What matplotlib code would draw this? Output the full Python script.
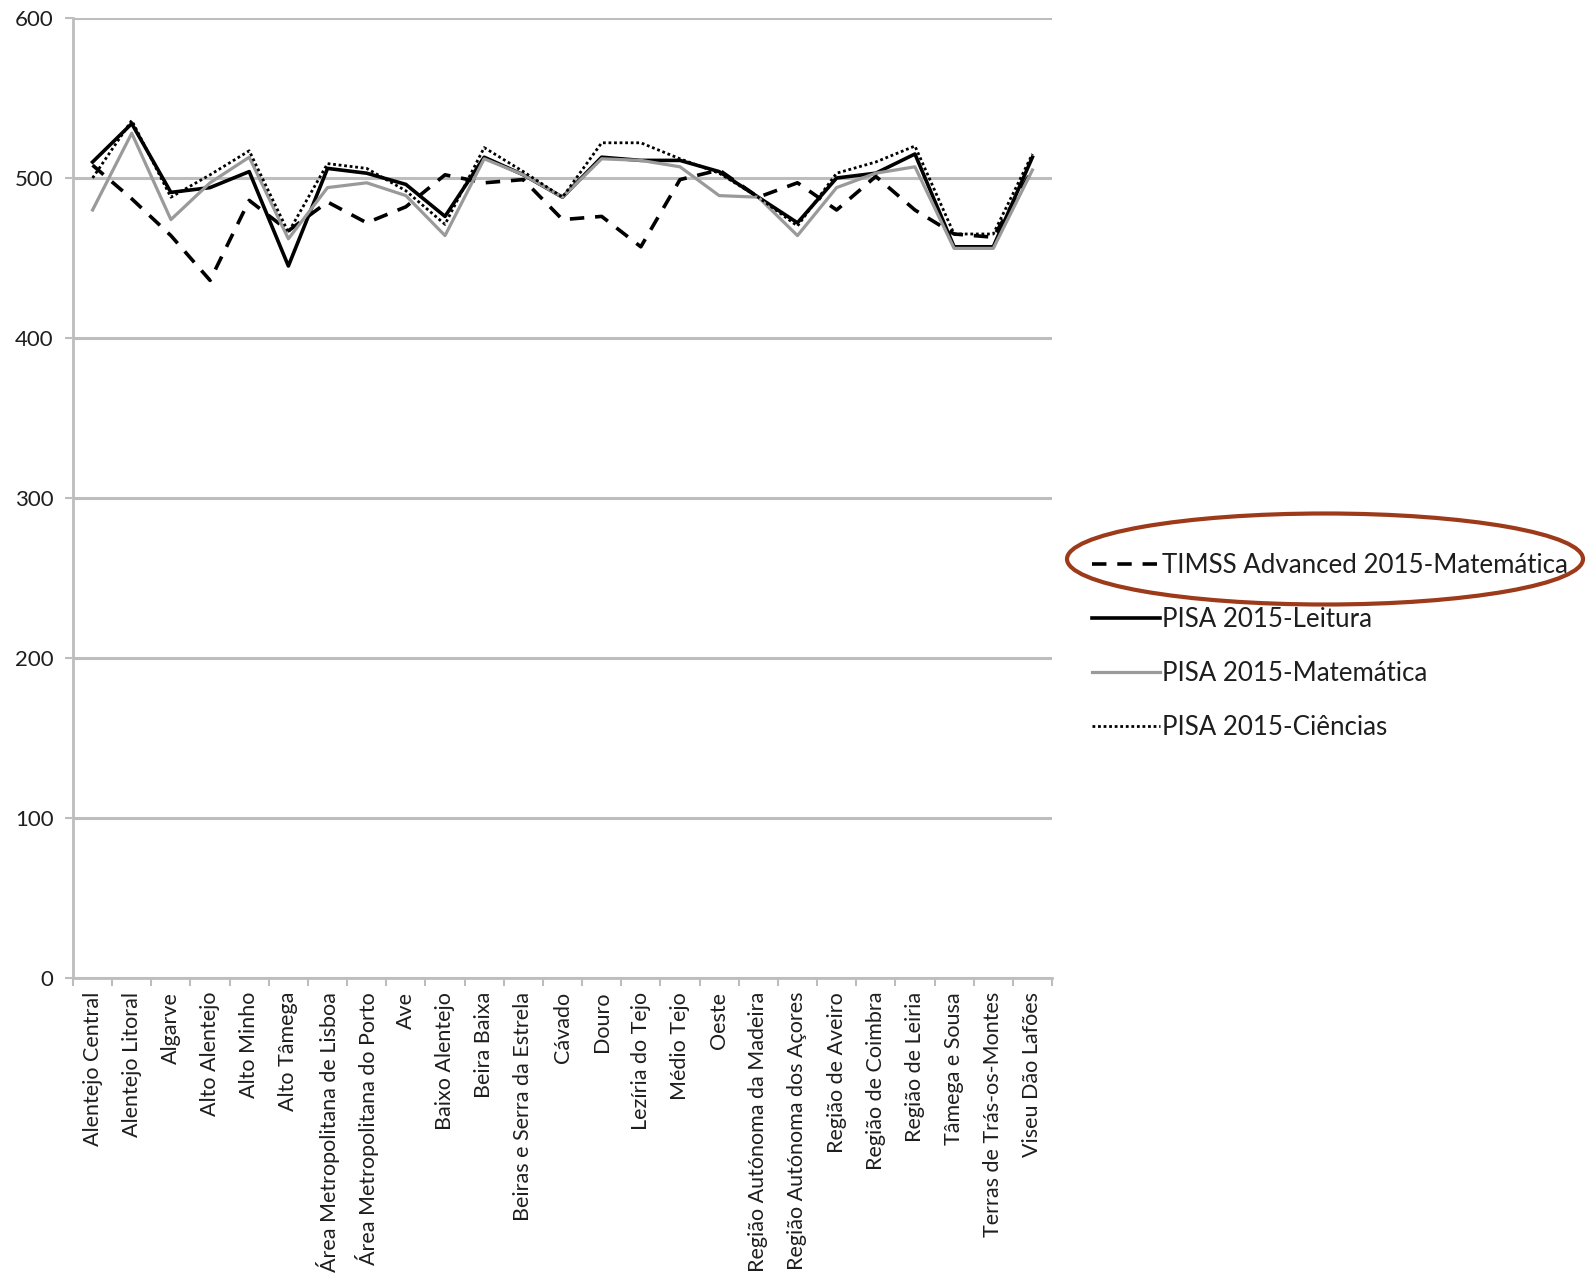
import matplotlib
matplotlib.use("Agg")
import matplotlib.pyplot as plt
from matplotlib.patches import Ellipse
import numpy as np

categories = ["Alentejo Central", "Alentejo Litoral", "Algarve", "Alto Alentejo",
              "Alto Minho", "Alto Tâmega", "Área Metropolitana de Lisboa",
              "Área Metropolitana do Porto", "Ave", "Baixo Alentejo", "Beira Baixa",
              "Beiras e Serra da Estrela", "Cávado", "Douro", "Lezíria do Tejo",
              "Médio Tejo", "Oeste", "Região Autónoma da Madeira",
              "Região Autónoma dos Açores", "Região de Aveiro", "Região de Coimbra",
              "Região de Leiria", "Tâmega e Sousa", "Terras de Trás-os-Montes",
              "Viseu Dão Lafões"]

timss_mat = [508, 487, 464, 436, 486, 467, 485, 472, 482, 502, 497, 499, 474, 476,
             457, 499, 505, 488, 497, 480, 501, 480, 465, 463, 505]
pisa_leitura = [510, 534, 491, 494, 504, 445, 506, 503, 496, 476, 513, 502, 488, 513,
                511, 511, 504, 488, 472, 500, 503, 515, 457, 457, 513]
pisa_mat = [480, 528, 474, 497, 513, 462, 494, 497, 489, 464, 512, 502, 488, 512,
            511, 507, 489, 488, 464, 494, 503, 507, 456, 456, 505]
pisa_cien = [500, 536, 488, 502, 517, 466, 509, 506, 492, 471, 519, 504, 488, 522,
             522, 512, 503, 488, 470, 503, 510, 520, 465, 465, 515]

yticks = [0, 100, 200, 300, 400, 500, 600]
series_labels = ["TIMSS Advanced 2015-Matemática", "PISA 2015-Leitura",
                 "PISA 2015-Matemática", "PISA 2015-Ciências"]

plt.rcParams['font.family'] = ['Lato', 'DejaVu Sans']

fig = plt.figure(figsize=(15.86, 12.79), dpi=100)
ax = fig.add_axes([73/1586, 1 - 978/1279, (1052-73)/1586, (978-18)/1279])

x = np.arange(len(categories))
grid_c = "#bdbdbd"
text_c = "#1e1e1e"

ax.set_ylim(0, 600)
ax.set_xlim(-0.5, len(categories) - 0.5)
ax.set_yticks(yticks)
ax.yaxis.grid(True, color=grid_c, linewidth=2.2)
ax.set_axisbelow(True)

l1, = ax.plot(x, timss_mat, color="black", linewidth=2.6, linestyle=(0, (4, 3)))
l2, = ax.plot(x, pisa_leitura, color="black", linewidth=2.6)
l3, = ax.plot(x, pisa_mat, color="#9a9a9a", linewidth=2.3)
l4, = ax.plot(x, pisa_cien, color="black", linewidth=2.0, linestyle=(0, (1, 1)))

for s in ["top", "right"]:
    ax.spines[s].set_visible(False)
for s in ["left", "bottom"]:
    ax.spines[s].set_color(grid_c)
    ax.spines[s].set_linewidth(2.0)

ax.set_xticks(x)
ax.set_xticklabels(categories, rotation=90, fontsize=15.5, color=text_c)
ax.set_xticks(np.arange(-0.5, len(categories), 1.0), minor=True)
ax.tick_params(axis="x", which="major", length=0, pad=10)
ax.tick_params(axis="x", which="minor", length=6, color=grid_c, width=1.5)
ax.tick_params(axis="y", length=6, color=grid_c, width=1.5, labelsize=16,
               labelcolor=text_c, pad=8)

leg = fig.legend([l1, l2, l3, l4], series_labels, loc="upper left",
                 bbox_to_anchor=(1082/1586, 1 - 543/1279), frameon=False,
                 fontsize=18.6, handlelength=2.6, handletextpad=0.1,
                 labelspacing=1.12, borderaxespad=0)
for t in leg.get_texts():
    t.set_color(text_c)

ell = Ellipse((1325/1586, 1 - 559/1279), 516/1586, 91/1279,
              transform=fig.transFigure, fill=False, edgecolor="#9c3a1a",
              linewidth=3.0)
fig.patches.append(ell)

fig.savefig("out.png", dpi=100)
